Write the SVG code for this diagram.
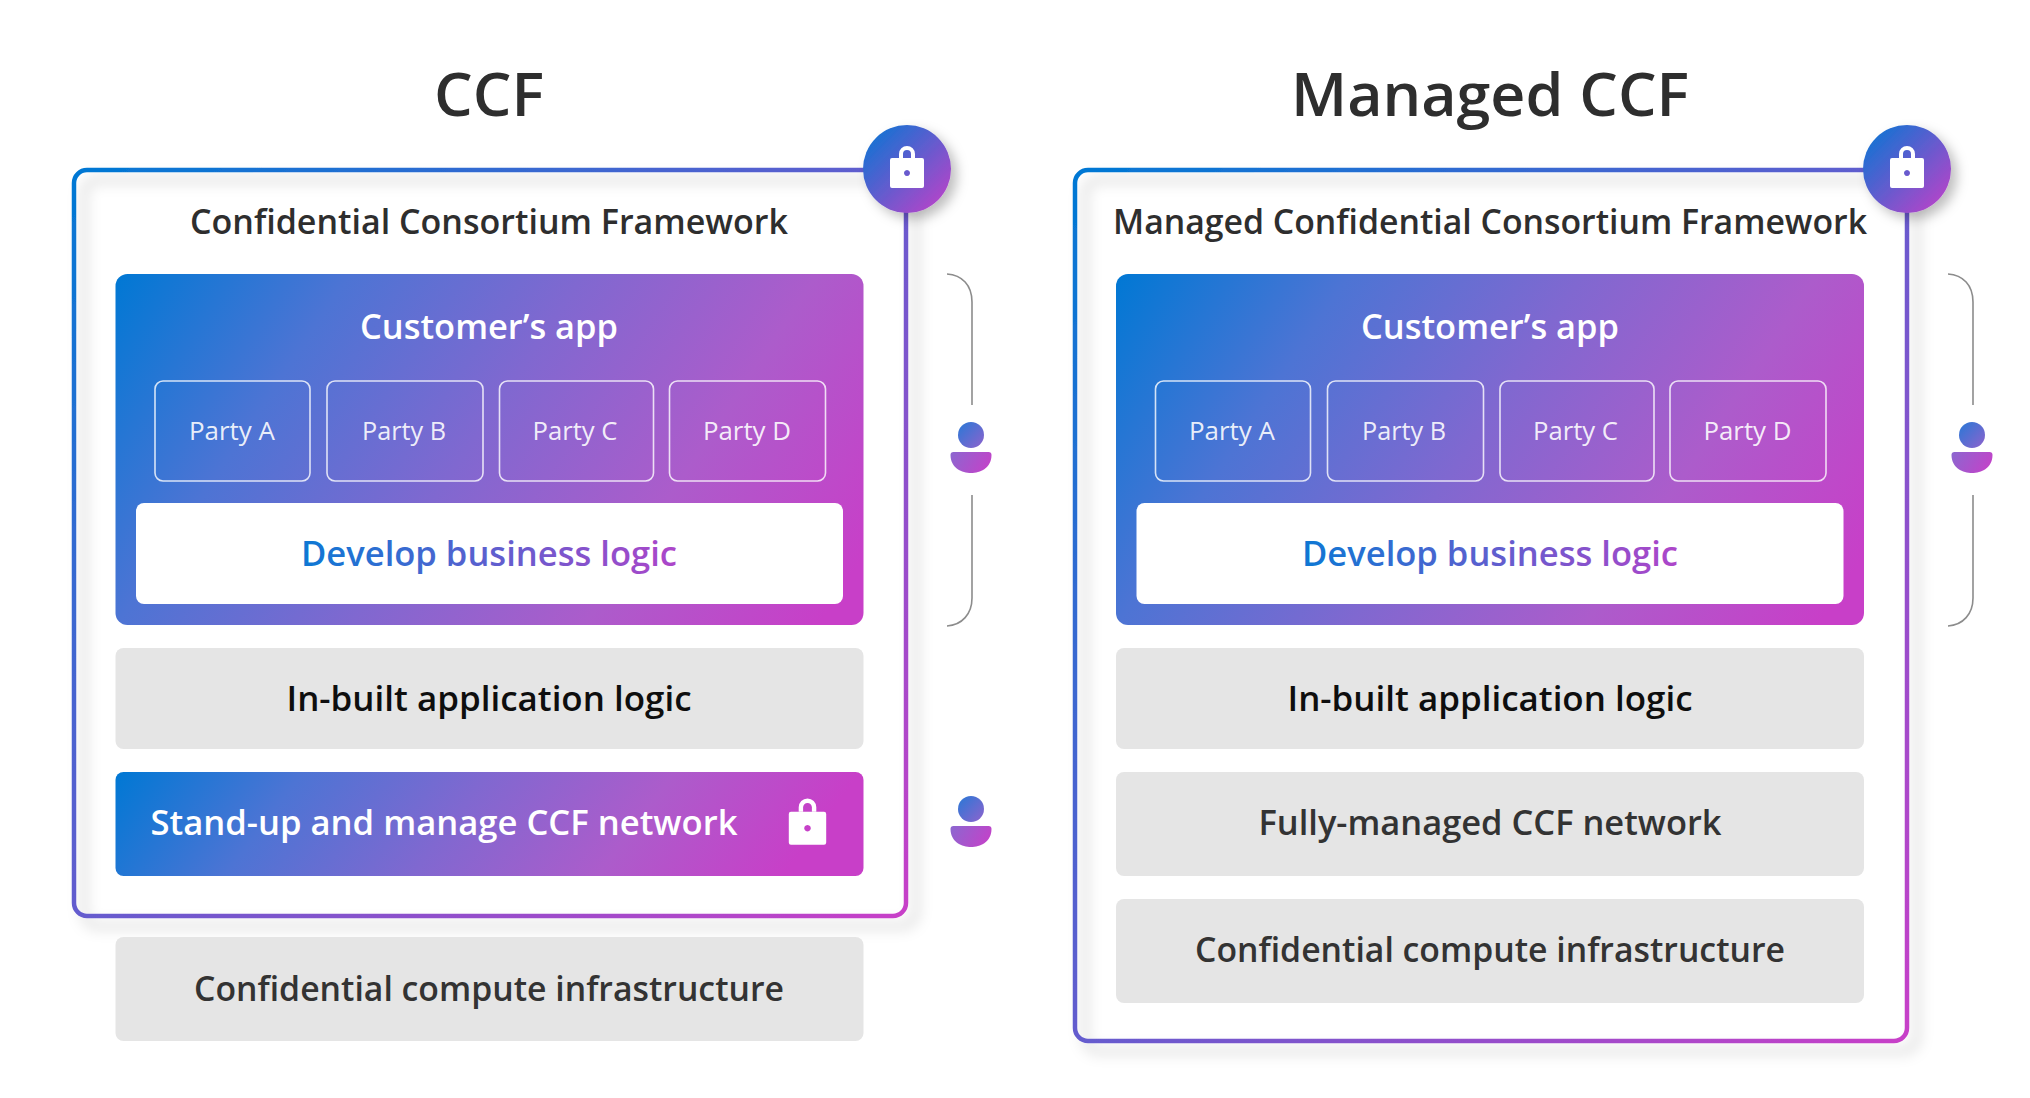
<svg xmlns="http://www.w3.org/2000/svg" width="2030" height="1098" viewBox="0 0 2030 1098">
<defs>
<linearGradient id="gb" gradientUnits="objectBoundingBox" x1="0" y1="0" x2="1" y2="1"><stop offset="0" stop-color="#0078d4"/><stop offset="1" stop-color="#c83fc8"/></linearGradient>
<linearGradient id="gc" gradientUnits="userSpaceOnUse" x1="116" y1="274" x2="765" y2="705"><stop offset="0" stop-color="#0078d4"/><stop offset=".25" stop-color="#4d74d4"/><stop offset=".5" stop-color="#8068d0"/><stop offset=".75" stop-color="#ac5ccb"/><stop offset="1" stop-color="#c83fc8"/></linearGradient>
<linearGradient id="gc2" gradientUnits="userSpaceOnUse" x1="1116" y1="274" x2="1765" y2="705"><stop offset="0" stop-color="#0078d4"/><stop offset=".25" stop-color="#4d74d4"/><stop offset=".5" stop-color="#8068d0"/><stop offset=".75" stop-color="#ac5ccb"/><stop offset="1" stop-color="#c83fc8"/></linearGradient>
<linearGradient id="gs" gradientUnits="userSpaceOnUse" x1="116" y1="772" x2="595" y2="1129"><stop offset="0" stop-color="#0078d4"/><stop offset=".25" stop-color="#4d74d4"/><stop offset=".5" stop-color="#8068d0"/><stop offset=".75" stop-color="#ac5ccb"/><stop offset="1" stop-color="#c83fc8"/></linearGradient>
<linearGradient id="gu" gradientUnits="userSpaceOnUse" x1="300" y1="0" x2="720" y2="0"><stop offset="0" stop-color="#0c78d4"/><stop offset="1" stop-color="#c040c8"/></linearGradient>
<linearGradient id="gu2" gradientUnits="userSpaceOnUse" x1="1300" y1="0" x2="1720" y2="0"><stop offset="0" stop-color="#0c78d4"/><stop offset="1" stop-color="#c040c8"/></linearGradient>
<filter id="sh" x="-10%" y="-10%" width="125%" height="125%"><feDropShadow dx="10" dy="10" stdDeviation="7" flood-color="#000" flood-opacity="0.2"/></filter>
<filter id="shc" x="-30%" y="-30%" width="170%" height="170%"><feDropShadow dx="6" dy="6" stdDeviation="6" flood-color="#000" flood-opacity="0.25"/></filter>
<g id="lock"><path d="M-6,-13 V-17 A6,6 0 0 1 6,-17 V-13" fill="none" stroke="#fff" stroke-width="4"/><path fill-rule="evenodd" fill="#fff" d="M-15,-13 Q-17,-13 -17,-11 V15 Q-17,17 -15,17 H15 Q17,17 17,15 V-11 Q17,-13 15,-13 Z M0,-1 a3,3 0 1 0 0.01,0 Z"/></g>
<linearGradient id="personHead" gradientUnits="userSpaceOnUse" x1="-13" y1="-20" x2="16" y2="8"><stop offset="0" stop-color="#2a78d6"/><stop offset="1" stop-color="#9a60cc"/></linearGradient>
<linearGradient id="personBody" gradientUnits="userSpaceOnUse" x1="-20" y1="6" x2="20" y2="30"><stop offset="0" stop-color="#8a68d0"/><stop offset="1" stop-color="#c83fc8"/></linearGradient>
<g id="person"><circle cx="0" cy="-8" r="13" fill="url(#personHead)"/><path d="M-20.5,12 Q-20.5,9 -17.5,9 H17.5 Q20.5,9 20.5,12 C20.5,25 9,30 0,30 C-9,30 -20.5,25 -20.5,12 Z" fill="url(#personBody)"/></g>
</defs>
<style>
text{font-family:"Open Sans","Noto Sans","Liberation Sans",sans-serif;text-anchor:middle}
.title{font-size:60px;font-weight:600;fill:#2e2e2e}
.sub{font-size:35px;font-weight:600;fill:#2e2e2e}
.head{font-size:35px;font-weight:600;fill:#fff}
.party{font-size:26px;fill:#fff;fill-opacity:.9}
.dev{font-size:35px;font-weight:600}
.bar{font-size:35px;font-weight:600;fill:#333}
.dark{fill:#0e0e0e}
.frame{fill:#fff;stroke:none}
.edge{fill:none;stroke:url(#gb);stroke-width:4.5;filter:url(#sh)}
.pbox{fill:none;stroke:#fff;stroke-opacity:.8;stroke-width:1.6}
.grey{fill:#e5e5e5}
.brace{fill:none;stroke:#8c8c8c;stroke-width:1.6}
</style>
<g id="ccf">
<text class="title" x="489" y="116" textLength="110" lengthAdjust="spacingAndGlyphs">CCF</text>
<g id="ccf-frame"><rect class="frame" x="74" y="170" width="832" height="746" rx="13"/><rect class="edge" x="74" y="170" width="832" height="746" rx="13"/></g>
<text class="sub" x="489" y="234" textLength="598" lengthAdjust="spacingAndGlyphs">Confidential Consortium Framework</text>
<g id="ccf-app">
<rect x="115.500" y="274" width="748" height="351" rx="12" fill="url(#gc)"/>
<text class="head" x="489" y="339" textLength="258" lengthAdjust="spacingAndGlyphs">Customer’s app</text>
<g id="ccf-party-a"><rect class="pbox" x="155" y="381" width="155" height="100" rx="8"/><text class="party" x="232" y="440" textLength="86" lengthAdjust="spacingAndGlyphs">Party A</text></g>
<g id="ccf-party-b"><rect class="pbox" x="327" y="381" width="156" height="100" rx="8"/><text class="party" x="404" y="440" textLength="84" lengthAdjust="spacingAndGlyphs">Party B</text></g>
<g id="ccf-party-c"><rect class="pbox" x="499.500" y="381" width="154" height="100" rx="8"/><text class="party" x="575" y="440" textLength="85" lengthAdjust="spacingAndGlyphs">Party C</text></g>
<g id="ccf-party-d"><rect class="pbox" x="669.500" y="381" width="156" height="100" rx="8"/><text class="party" x="747" y="440" textLength="88" lengthAdjust="spacingAndGlyphs">Party D</text></g>
<g id="ccf-dev"><rect x="136" y="503" width="707" height="101" rx="8" fill="#fff"/><text class="dev" x="489" y="566" fill="url(#gu)" textLength="376" lengthAdjust="spacingAndGlyphs">Develop business logic</text></g>
</g>
<g id="ccf-inbuilt"><rect class="grey" x="115.500" y="648" width="748" height="101" rx="8"/><text class="bar dark" x="489" y="711" textLength="405" lengthAdjust="spacingAndGlyphs">In-built application logic</text></g>
<g id="ccf-standup"><rect x="115.500" y="772" width="748" height="104" rx="8" fill="url(#gs)"/><text class="head" x="444" y="835" textLength="587" lengthAdjust="spacingAndGlyphs">Stand-up and manage CCF network</text><use href="#lock" transform="translate(807.5,826) scale(1.1)"/></g>
<g id="ccf-infra"><rect class="grey" x="115.500" y="937" width="748" height="104" rx="8"/><text class="bar" x="489" y="1001" textLength="590" lengthAdjust="spacingAndGlyphs">Confidential compute infrastructure</text></g>
<g id="ccf-badge"><circle cx="907" cy="169" r="44" fill="url(#gb)" filter="url(#shc)"/><use href="#lock" transform="translate(907,171)"/></g>
<g id="ccf-person-1"><use href="#person" transform="translate(971,443)"/></g>
<g id="ccf-person-2"><use href="#person" transform="translate(971,817)"/></g>
</g>
<g id="managed">
<text class="title" x="1490" y="116" textLength="398" lengthAdjust="spacingAndGlyphs">Managed CCF</text>
<g id="m-frame"><rect class="frame" x="1075" y="170" width="832" height="871" rx="13"/><rect class="edge" x="1075" y="170" width="832" height="871" rx="13"/></g>
<text class="sub" x="1490" y="234" textLength="754" lengthAdjust="spacingAndGlyphs">Managed Confidential Consortium Framework</text>
<g id="m-app">
<rect x="1116" y="274" width="748" height="351" rx="12" fill="url(#gc2)"/>
<text class="head" x="1490" y="339" textLength="258" lengthAdjust="spacingAndGlyphs">Customer’s app</text>
<g id="m-party-a"><rect class="pbox" x="1155.500" y="381" width="155" height="100" rx="8"/><text class="party" x="1232" y="440" textLength="86" lengthAdjust="spacingAndGlyphs">Party A</text></g>
<g id="m-party-b"><rect class="pbox" x="1327.500" y="381" width="156" height="100" rx="8"/><text class="party" x="1404" y="440" textLength="84" lengthAdjust="spacingAndGlyphs">Party B</text></g>
<g id="m-party-c"><rect class="pbox" x="1500" y="381" width="154" height="100" rx="8"/><text class="party" x="1575.500" y="440" textLength="85" lengthAdjust="spacingAndGlyphs">Party C</text></g>
<g id="m-party-d"><rect class="pbox" x="1670" y="381" width="156" height="100" rx="8"/><text class="party" x="1747.500" y="440" textLength="88" lengthAdjust="spacingAndGlyphs">Party D</text></g>
<g id="m-dev"><rect x="1136.500" y="503" width="707" height="101" rx="8" fill="#fff"/><text class="dev" x="1490" y="566" fill="url(#gu2)" textLength="376" lengthAdjust="spacingAndGlyphs">Develop business logic</text></g>
</g>
<g id="m-inbuilt"><rect class="grey" x="1116" y="648" width="748" height="101" rx="8"/><text class="bar dark" x="1490" y="711" textLength="405" lengthAdjust="spacingAndGlyphs">In-built application logic</text></g>
<g id="m-network"><rect class="grey" x="1116" y="772" width="748" height="104" rx="8"/><text class="bar" x="1490" y="835" textLength="463" lengthAdjust="spacingAndGlyphs">Fully-managed CCF network</text></g>
<g id="m-infra"><rect class="grey" x="1116" y="899" width="748" height="104" rx="8"/><text class="bar" x="1490" y="962" textLength="590" lengthAdjust="spacingAndGlyphs">Confidential compute infrastructure</text></g>
<g id="m-badge"><circle cx="1907" cy="169" r="44" fill="url(#gb)" filter="url(#shc)"/><use href="#lock" transform="translate(1907,171)"/></g>
<g id="m-person-1"><use href="#person" transform="translate(1972,443)"/></g>
</g>
<g id="connectors">
<path class="brace" d="M947,274 C962,275 972,285 972,302 V405"/>
<path class="brace" d="M972,495 V598 C972,614 962,625 947,626"/>
<path class="brace" d="M1948,274 C1963,275 1973,285 1973,302 V405"/>
<path class="brace" d="M1973,495 V598 C1973,614 1963,625 1948,626"/>
</g>
</svg>
